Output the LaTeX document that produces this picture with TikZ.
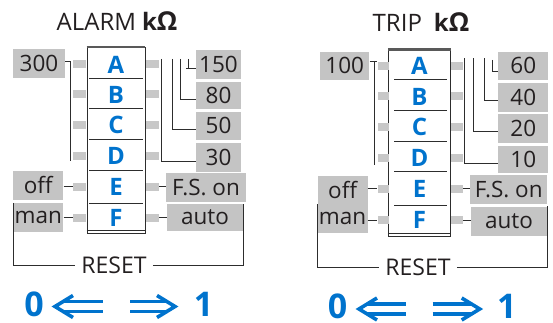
\documentclass[tikz,border=0pt]{standalone}
\usepackage{fontspec}
\setmainfont{Open Sans}
\definecolor{boxgray}{RGB}{196,196,196}
\definecolor{stubgray}{RGB}{200,200,200}
\definecolor{wirec}{RGB}{45,45,45}
\definecolor{txt}{RGB}{35,31,32}
\definecolor{blu}{RGB}{0,115,205}
\tikzset{
  lbl/.style={fill=boxgray, inner sep=0pt, text=txt, font=\fontsize{22.5}{22.5}\selectfont},
  stubbox/.style={fill=stubgray, inner sep=0pt, minimum height=8pt},
  wire/.style={draw=wirec, line width=0.9pt},
  letter/.style={text=blu, inner sep=0pt, font=\fontsize{24}{24}\selectfont\bfseries},
  sepline/.style={draw=wirec, line width=0.8pt},
  frame/.style={draw=wirec, line width=0.9pt, inner sep=0pt},
  topbar/.style={draw=gray!70!black, line width=2.2pt},
  ttl/.style={text=txt, inner sep=0pt, font=\fontsize{24}{24}\selectfont},
  rst/.style={text=txt, inner xsep=6pt, inner ysep=0pt, font=\fontsize{23}{23}\selectfont},
  big/.style={text=blu, inner sep=0pt, font=\fontsize{34}{34}\selectfont\bfseries},
  dblarrow/.style={draw=blu, line width=3.6pt, line join=miter},
}
\begin{document}
\begin{tikzpicture}[x=1pt,y=-1pt]
\useasboundingbox (0,0) rectangle (553,323);

% ================= LEFT PANEL (ALARM) =================
\node[ttl] (Ltitle) at (117,21) {ALARM\hspace{6pt}\textbf{k\fontsize{26}{26}\selectfont Ω}};

\node[frame, minimum width=58pt, minimum height=185.5pt] (Lbox) at (116,140.25) {};
\draw[topbar] (Lbox.north west) -- (Lbox.north east);
\draw[frame] ([yshift=3pt]Lbox.south west) -- ([yshift=3pt]Lbox.south east);
\foreach \yy in {78,108,139,170,203} \draw[sepline] (89,\yy) -- (143,\yy);

\node[letter] (LA) at (116,64.5) {A};
\node[letter] (LB) at (116,94.5) {B};
\node[letter] (LC) at (116,125) {C};
\node[letter] (LD) at (116,156) {D};
\node[letter] (LE) at (116,186.5) {E};
\node[letter] (LF) at (116,217.5) {F};

\foreach \n/\yy in {A/64.5,B/94.5,C/125,D/156,E/186.5,F/217.5}{
  \node[stubbox, minimum width=13pt] (Ls\n) at (79.5,\yy) {};
  \node[stubbox, minimum width=13pt] (Lr\n) at (152.5,\yy) {};
}

\node[lbl, minimum width=52pt, minimum height=29pt] (L300) at (39,63.5) {300};
\draw[wire] (L300.east |- 0,61) -- (70,61) -- (70,161);

\node[lbl, minimum width=45pt, minimum height=29.3pt] (L150) at (218.5,64.7) {150};
\node[lbl, minimum width=45pt, minimum height=27.6pt] (L80) at (218.5,95.5) {80};
\node[lbl, minimum width=45pt, minimum height=28.3pt] (L50) at (218.5,125.9) {50};
\node[lbl, minimum width=45pt, minimum height=28.4pt] (L30) at (218.5,157.5) {30};

\draw[wire] (161,59) -- (161,161) -- (L30.west |- 0,161);
\draw[wire] (172,59) -- (172,129) -- (L50.west |- 0,129);
\draw[wire] (180,59) -- (180,99) -- (L80.west |- 0,99);
\draw[wire] (188.5,59) -- (188.5,68);
\draw[wire] (186,68) -- (L150.west |- 0,68);

\node[lbl, minimum width=80pt, minimum height=28.7pt] (LFS) at (206,187.3) {F.S. on};
\node[lbl, minimum width=76.3pt, minimum height=26.7pt] (Lauto) at (205,217.4) {auto};
\node[lbl, minimum width=50pt, minimum height=29.3pt] (Loff) at (38.3,185.3) {off};
\node[lbl, minimum width=50pt, minimum height=28.7pt] (Lman) at (38.3,217.3) {man};

\draw[wire] (Loff.east |- LsE) -- (LsE.west);
\draw[wire] (Lman.east |- LsF) -- (LsF.west);
\draw[wire] (LrE.east) -- (LFS.west |- LrE);
\draw[wire] (LrF.east) -- (Lauto.west |- LrF);

\node[rst] (LR) at (114,265.5) {RESET};
\draw[wire] (Lman.north west) -- (Lman.west |- LR) -- (LR.west);
\draw[wire] (LR.east) -- (Lauto.east |- LR) -- (Lauto.north east);

\node[big] (L0) at (34,304.5) {0};
\node[big] (L1) at (203.5,304.5) {1};
\draw[dblarrow] (73,295.5) -- (55,306.5) -- (73,317.5);
\draw[dblarrow] (63.2,301.5) -- (103,301.5);
\draw[dblarrow] (63.2,311.5) -- (103,311.5);
\draw[dblarrow] (157,295.5) -- (175,306.5) -- (157,317.5);
\draw[dblarrow] (130,301.5) -- (166.8,301.5);
\draw[dblarrow] (130,311.5) -- (166.8,311.5);

% ================= RIGHT PANEL (TRIP) =================
\node[ttl] (Rtitle) at (421,22) {TRIP\hspace{12pt}\textbf{k\fontsize{26}{26}\selectfont Ω}};

\node[frame, minimum width=62.4pt, minimum height=186pt] (Rbox) at (419.5,143) {};
\draw[topbar] (Rbox.north west) -- (Rbox.north east);
\draw[frame] ([yshift=3pt]Rbox.south west) -- ([yshift=3pt]Rbox.south east);
\foreach \yy in {79.3,110,141.7,171.7,205} \draw[sepline] (394,\yy) -- (447,\yy);

\node[letter] (RA) at (419.5,66) {A};
\node[letter] (RB) at (419.5,96.5) {B};
\node[letter] (RC) at (419.5,127) {C};
\node[letter] (RD) at (419.5,158) {D};
\node[letter] (RE) at (419.5,188.5) {E};
\node[letter] (RF) at (419.5,220) {F};

\foreach \n/\yy in {A/66,B/96.5,C/127,D/158,E/188.5,F/220}{
  \node[stubbox, minimum width=11pt] (Rs\n) at (383,\yy) {};
  \node[stubbox, minimum width=12pt] (Rr\n) at (457,\yy) {};
}

\node[lbl, minimum width=49.3pt, minimum height=28.3pt] (R100) at (344.7,65.9) {100};
\draw[wire] (R100.east |- 0,61) -- (376.5,61);
\draw[wire] (374,61) -- (374,165);

\node[lbl, minimum width=50pt, minimum height=28.3pt] (R60) at (523.3,65.9) {60};
\node[lbl, minimum width=50pt, minimum height=29pt] (R40) at (523.3,97.8) {40};
\node[lbl, minimum width=50pt, minimum height=29pt] (R20) at (523.3,128.8) {20};
\node[lbl, minimum width=50pt, minimum height=27.6pt] (R10) at (523.3,159.5) {10};

\draw[wire] (464.5,58.5) -- (464.5,163.3) -- (R10.west |- 0,163.3);
\draw[wire] (473.3,58.5) -- (473.3,131) -- (R20.west |- 0,131);
\draw[wire] (484.3,58.5) -- (484.3,100) -- (R40.west |- 0,100);
\draw[wire] (492,60) -- (492,71.5) -- (R60.west |- 0,71.5);

\node[lbl, minimum width=77.3pt, minimum height=29pt] (RFS) at (508.7,189.5) {F.S. on};
\node[lbl, minimum width=76.6pt, minimum height=29.3pt] (Rauto) at (509,221.3) {auto};
\node[lbl, minimum width=49.8pt, minimum height=28.8pt] (Roff) at (342.6,190.1) {off};
\node[lbl, minimum width=49.8pt, minimum height=28.8pt] (Rman) at (342.6,218.9) {man};

\draw[wire] (Roff.east |- RsE) -- (RsE.west);
\draw[wire] (Rman.east |- RsF) -- (RsF.west);
\draw[wire] (RrE.east) -- (RFS.west |- RrE);
\draw[wire] (RrF.east) -- (Rauto.west |- RrF);

\node[rst] (RR) at (418,267.3) {RESET};
\draw[wire] (Rman.north west) -- (Rman.west |- RR) -- (RR.west);
\draw[wire] (RR.east) -- (Rauto.east |- RR) -- (Rauto.north east);

\node[big] (R0) at (337.5,306.5) {0};
\node[big] (R1) at (506.7,306.5) {1};
\draw[dblarrow] (377,298) -- (359,309) -- (377,320);
\draw[dblarrow] (367.2,304) -- (406,304);
\draw[dblarrow] (367.2,314) -- (406,314);
\draw[dblarrow] (461.7,298) -- (479.7,309) -- (461.7,320);
\draw[dblarrow] (432.7,304) -- (471.5,304);
\draw[dblarrow] (432.7,314) -- (471.5,314);
\end{tikzpicture}
\end{document}
